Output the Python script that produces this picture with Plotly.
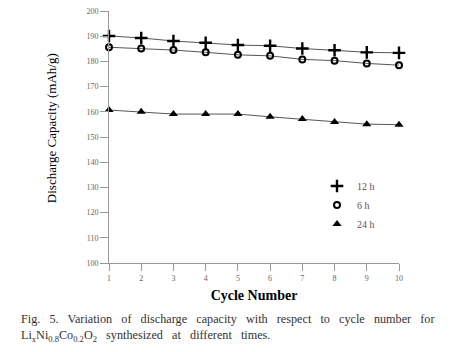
import plotly.graph_objects as go

cycles = [1, 2, 3, 4, 5, 6, 7, 8, 9, 10]
cap_12h = [190.1, 189.3, 188.1, 187.4, 186.5, 186.2, 185.1, 184.4, 183.6, 183.4]
cap_6h = [185.6, 185.1, 184.5, 183.6, 182.6, 182.2, 180.8, 180.3, 179.2, 178.5]
cap_24h = [160.7, 160.0, 159.1, 159.1, 159.1, 158.0, 157.1, 156.0, 155.1, 154.9]
y_ticks = [100, 110, 120, 130, 140, 150, 160, 170, 180, 190, 200]

SERIF = "Liberation Serif, Times New Roman, serif"
W, H = 459, 352
L, R, T, B = 109, 399, 7, 263

def px_x(px):
    return (px - L) / (R - L)

def px_y(py):
    return (B - py) / (B - T)

fig = go.Figure()
series = [
    ("12 h", cap_12h, dict(symbol="cross-thin-open", size=9, color="black",
                          line=dict(width=2.4, color="black"))),
    ("6 h", cap_6h, dict(symbol="circle-open", size=6, color="black",
                        line=dict(width=2, color="black"))),
    ("24 h", cap_24h, dict(symbol="triangle-up", size=8, color="black",
                          line=dict(width=0))),
]
for name, vals, mk in series:
    fig.add_trace(go.Scatter(
        x=cycles, y=vals, name=name, mode="lines+markers",
        line=dict(color="#555", width=1), marker=mk, cliponaxis=False,
        showlegend=False,
    ))
# marker-only legend entries
for name, vals, mk in series:
    fig.add_trace(go.Scatter(
        x=[None], y=[None], name=name, mode="markers", marker=mk, showlegend=True,
    ))

fig.update_layout(
    width=W, height=H,
    margin=dict(l=L, r=W - R, t=T, b=H - B, pad=0),
    paper_bgcolor="white", plot_bgcolor="white",
    font=dict(family=SERIF, color="#555"),
    showlegend=True,
    legend=dict(x=px_x(317), y=px_y(170), xanchor="left", yanchor="top",
                bgcolor="rgba(0,0,0,0)", font=dict(size=10, color="#555", family=SERIF),
                tracegroupgap=0, itemwidth=30),
    xaxis=dict(range=[1, 10], tickmode="array", tickvals=cycles,
               showgrid=False, zeroline=False, showline=True, linecolor="#999", linewidth=1,
               ticks="outside", ticklen=7, tickcolor="#999", tickwidth=1,
               tickfont=dict(size=8, color="#666", family=SERIF),
               title=dict(text="<b>Cycle Number</b>", standoff=8,
                          font=dict(size=14, color="black", family=SERIF))),
    yaxis=dict(range=[100, 200], tickmode="array", tickvals=y_ticks,
               showgrid=False, zeroline=False, showline=True, linecolor="#999", linewidth=1,
               ticks="outside", ticklen=8, tickcolor="#999", tickwidth=1,
               tickfont=dict(size=8, color="#666", family=SERIF)),
)

fig.add_annotation(text="Discharge Capacity (mAh/g)", xref="paper", yref="paper",
                   x=px_x(51), y=px_y(126), xanchor="center", yanchor="middle",
                   textangle=-90, showarrow=False,
                   font=dict(size=13, color="black", family=SERIF))

SP = "\u00a0\u00a0 "
cap1 = SP.join("Fig. 5. Variation of discharge capacity with respect to cycle number for".split(" "))
cap2 = SP.join(("Li<sub>x</sub>Ni<sub>0.8</sub>Co<sub>0.2</sub>O<sub>2</sub> "
                "synthesized at different times.").split(" "))
for txt, py in [(cap1, 320), (cap2, 337)]:
    fig.add_annotation(text=txt, xref="paper", yref="paper",
                       x=px_x(19), y=px_y(py),
                       xanchor="left", yanchor="middle", showarrow=False,
                       font=dict(size=12.2, color="#333", family=SERIF))

fig.write_html("out.html")
